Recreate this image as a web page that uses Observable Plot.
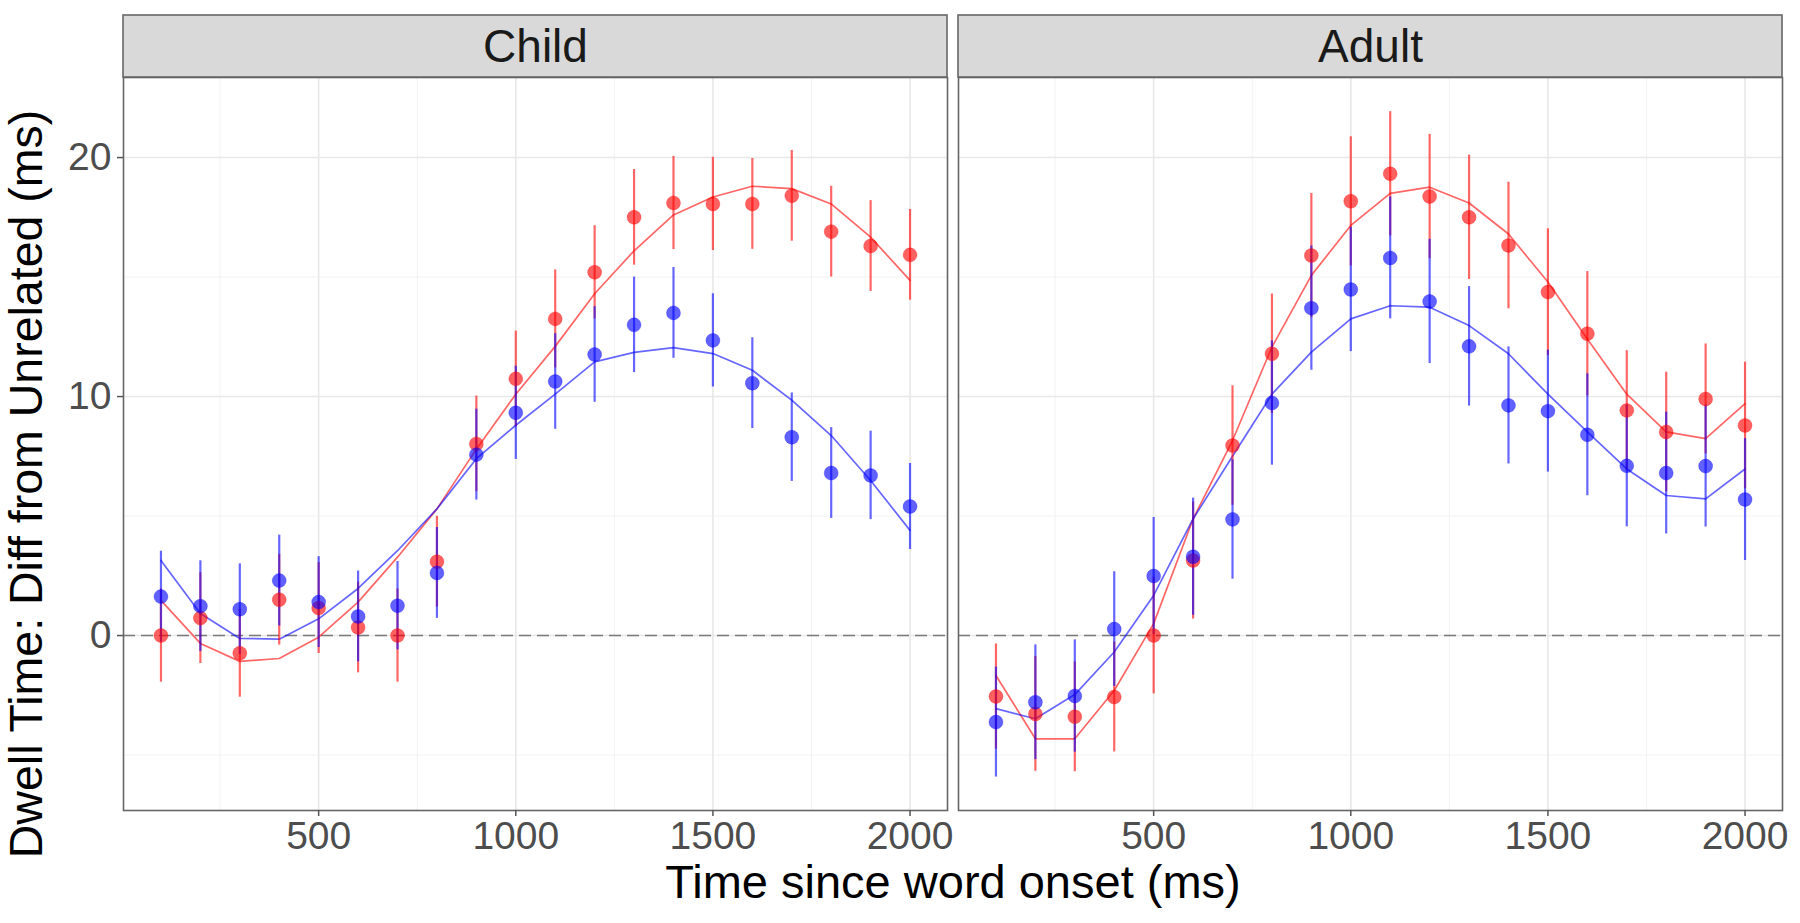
<!DOCTYPE html>
<html>
<head>
<meta charset="utf-8">
<script src="https://cdn.jsdelivr.net/npm/d3@7"></script>
<script src="https://cdn.jsdelivr.net/npm/@observablehq/plot@0.6"></script>
<style>
  html, body { margin: 0; padding: 0; background: #ffffff; }
  #chart { width: 1800px; height: 923px; }
</style>
</head>
<body>
<div id="chart"></div>
<script>
// ---------- data ----------
const panels = ["Child", "Adult"];
const times = [100, 200, 300, 400, 500, 600, 700, 800, 900, 1000,
               1100, 1200, 1300, 1400, 1500, 1600, 1700, 1800, 1900, 2000];
const seriesNames = ["red", "blue"];

const childRedMean = [0, 0.73, -0.74, 1.5, 1.15, 0.34, 0, 3.09, 8.02, 10.74,
                      13.25, 15.2, 17.5, 18.1, 18.06, 18.06, 18.4, 16.9, 16.3, 15.93];
const childRedSE   = [1.95, 1.9, 1.84, 1.9, 1.9, 1.9, 1.95, 1.9, 2.0, 2.0,
                      2.05, 1.95, 2.0, 1.95, 1.95, 1.9, 1.9, 1.9, 1.9, 1.9];
const childRedFit  = [1.47, -0.33, -1.08, -0.96, -0.07, 1.4, 3.28, 5.3, 7.8, 10.1,
                      12.1, 14.3, 16.1, 17.6, 18.35, 18.8, 18.7, 18.06, 16.67, 14.86];

const childBlueMean = [1.63, 1.23, 1.1, 2.3, 1.4, 0.8, 1.25, 2.62, 7.57, 9.32,
                       10.63, 11.76, 13.0, 13.5, 12.35, 10.56, 8.3, 6.8, 6.7, 5.4];
const childBlueSE   = [1.9, 1.9, 1.9, 1.9, 1.9, 1.9, 1.85, 1.9, 1.9, 1.95,
                       2.0, 2.0, 2.0, 1.9, 1.95, 1.9, 1.85, 1.9, 1.85, 1.8];
const childBlueFit  = [3.14, 0.92, -0.12, -0.15, 0.7, 1.97, 3.55, 5.3, 7.4, 8.8,
                       10.1, 11.45, 11.85, 12.05, 11.8, 11.1, 9.85, 8.37, 6.49, 4.4];

const adultRedMean = [-2.55, -3.28, -3.4, -2.57, 0, 3.14, 7.95, 11.79, 15.9, 18.17,
                      19.32, 18.37, 17.5, 16.32, 14.37, 12.63, 9.42, 8.52, 9.9, 8.79];
const adultRedSE   = [2.2, 2.4, 2.3, 2.3, 2.44, 2.45, 2.5, 2.5, 2.6, 2.7,
                      2.6, 2.6, 2.6, 2.65, 2.65, 2.6, 2.5, 2.5, 2.3, 2.65];
const adultRedFit  = [-1.67, -4.32, -4.32, -2.3, 0.5, 4.88, 8.16, 12.07, 15.07, 17.16,
                      18.5, 18.76, 18.1, 16.8, 14.79, 12.41, 10.1, 8.52, 8.24, 9.7];

const adultBlueMean = [-3.62, -2.79, -2.53, 0.27, 2.49, 3.3, 4.86, 9.73, 13.7, 14.48,
                       15.8, 13.98, 12.1, 9.63, 9.39, 8.4, 7.1, 6.8, 7.09, 5.69];
const adultBlueSE   = [2.3, 2.4, 2.35, 2.4, 2.45, 2.45, 2.5, 2.6, 2.6, 2.6,
                       2.55, 2.6, 2.5, 2.45, 2.55, 2.55, 2.55, 2.55, 2.55, 2.55];
const adultBlueFit  = [-3.06, -3.48, -2.47, -0.69, 1.68, 4.88, 7.5, 10.1, 11.86, 13.25,
                       13.8, 13.74, 12.97, 11.79, 10.1, 8.52, 6.97, 5.86, 5.72, 6.97];

const xTicks = [500, 1000, 1500, 2000];
const xMinor = [250, 750, 1250, 1750];
const yTicks = [0, 10, 20];
const yMinor = [-5, 5, 15];

const xTitle = "Time since word onset (ms)";
const yTitle = "Dwell Time: Diff from Unrelated (ms)";

// ---------- table built from the arrays ----------
const seriesTable = [
  ["Child", "red", childRedMean, childRedSE, childRedFit],
  ["Child", "blue", childBlueMean, childBlueSE, childBlueFit],
  ["Adult", "red", adultRedMean, adultRedSE, adultRedFit],
  ["Adult", "blue", adultBlueMean, adultBlueSE, adultBlueFit]
];
const rows = [];
for (const [panel, series, mean, se, fit] of seriesTable) {
  times.forEach((t, i) => rows.push({panel, series, time: t, mean: mean[i], se: se[i], fit: fit[i]}));
}

// ---------- layout ----------
const W = 1800, H = 923;
const mL = 123, mR = 17, mT = 77, mB = 113;
const xDomain = [5, 2095];
const yDomain = [-7.32, 23.35];
const stripPx = 62;
const unitsPerPx = (yDomain[1] - yDomain[0]) / (H - mT - mB);
const stripTop = yDomain[1] + stripPx * unitsPerPx;
const font = "'Liberation Sans', Arial, Helvetica, sans-serif";

const chart = Plot.plot({
  width: W,
  height: H,
  marginLeft: mL,
  marginRight: mR,
  marginTop: mT,
  marginBottom: mB,
  style: {fontFamily: font, background: "#ffffff", overflow: "visible"},
  fx: {domain: panels, paddingInner: 11 / 835.5, paddingOuter: 0, axis: null, label: null},
  x: {domain: xDomain, axis: null, label: null},
  y: {domain: yDomain, axis: null, label: null},
  color: {domain: seriesNames, range: ["#ff0000", "#0000ff"]},
  marks: [
    Plot.gridX(xMinor, {stroke: "#f2f2f2", strokeOpacity: 1, strokeWidth: 1}),
    Plot.gridY(yMinor, {stroke: "#f2f2f2", strokeOpacity: 1, strokeWidth: 1}),
    Plot.gridX(xTicks, {stroke: "#e8e8e8", strokeOpacity: 1, strokeWidth: 1.6}),
    Plot.gridY(yTicks, {stroke: "#e8e8e8", strokeOpacity: 1, strokeWidth: 1.6}),
    Plot.ruleY([0], {stroke: "#7a7a7a", strokeWidth: 1.6, strokeDasharray: "12,6"}),
    Plot.line(rows, {fx: "panel", x: "time", y: "fit", z: "series", stroke: "series",
                     strokeWidth: 1.7, strokeOpacity: 0.6}),
    Plot.ruleX(rows, {fx: "panel", x: "time", y1: d => d.mean - d.se, y2: d => d.mean + d.se,
                      stroke: "series", strokeWidth: 2.2, strokeOpacity: 0.6}),
    Plot.dot(rows, {fx: "panel", x: "time", y: "mean", r: 7, fill: "series", fillOpacity: 0.62,
                    stroke: "series", strokeOpacity: 0.25, strokeWidth: 1}),
    Plot.frame({stroke: "#666666", strokeWidth: 1.6}),
    Plot.rect(panels, {fx: d => d, x1: xDomain[0], x2: xDomain[1], y1: yDomain[1], y2: stripTop,
                       fill: "#d9d9d9", stroke: "#666666", strokeWidth: 1.6, clip: false}),
    Plot.text(panels, {fx: d => d, text: d => d, frameAnchor: "top", lineAnchor: "middle", dy: -30,
                       fontSize: 46, fill: "#1a1a1a"}),
    Plot.axisX(xTicks, {tickSize: 6, tickPadding: 5, fontSize: 39, stroke: "#555555",
                        fill: "#4d4d4d", strokeWidth: 1.5, label: null, tickFormat: d => String(d)}),
    Plot.axisY(yTicks, {tickSize: 6, tickPadding: 6, fontSize: 39, stroke: "#555555",
                        fill: "#4d4d4d", strokeWidth: 1.5, label: null, tickFormat: d => String(d)})
  ]
});

document.getElementById("chart").append(chart);

// axis titles as real text
const svg = d3.select(chart);
svg.append("text")
  .attr("x", (mL + (W - mR)) / 2)
  .attr("y", 898)
  .attr("text-anchor", "middle")
  .attr("font-family", font)
  .attr("font-size", 47)
  .attr("fill", "#000000")
  .text(xTitle);
svg.append("text")
  .attr("transform", "translate(42,484) rotate(-90)")
  .attr("text-anchor", "middle")
  .attr("font-family", font)
  .attr("font-size", 46.5)
  .attr("fill", "#000000")
  .text(yTitle);
</script>
</body>
</html>
